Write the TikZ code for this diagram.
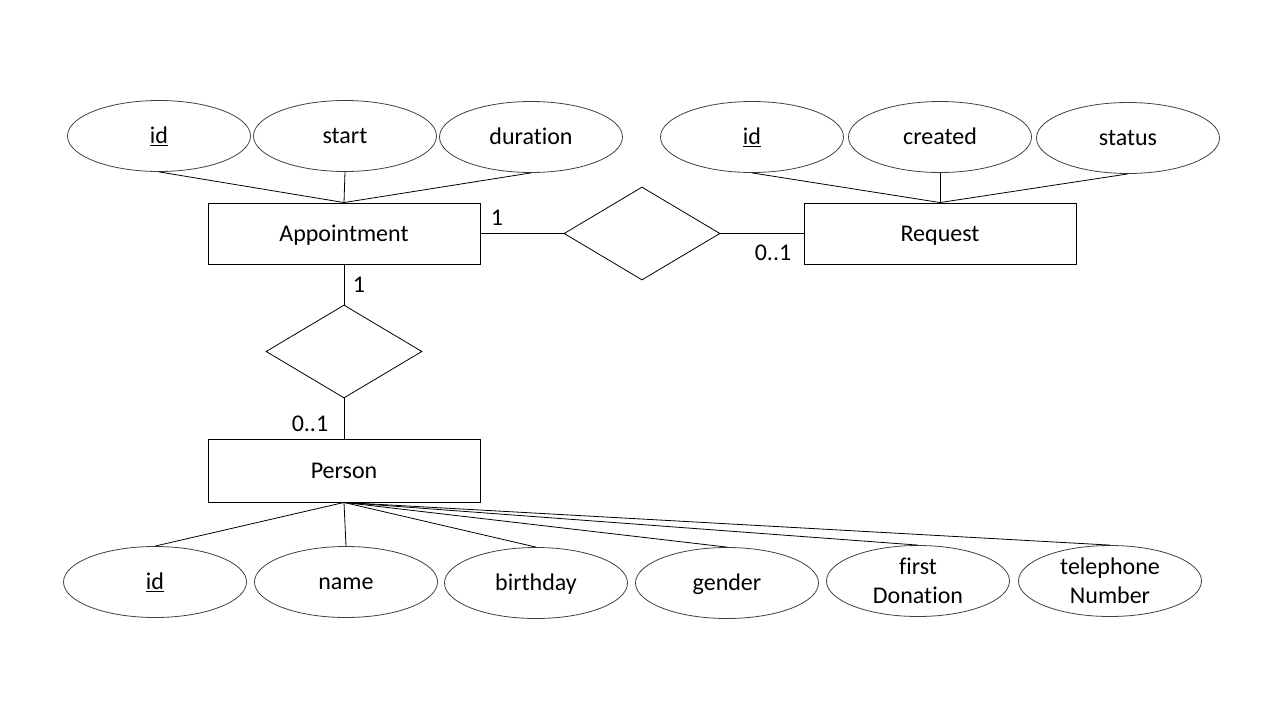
\documentclass[tikz,border=0pt]{standalone}
\usepackage{fontspec}
\setmainfont{Carlito}[Ligatures=NoCommon]
\usetikzlibrary{shapes.geometric}
\begin{document}
\begin{tikzpicture}[x=1pt,y=-1pt,
  fnt/.style={font=\fontsize{24}{29}\selectfont},
  txt/.style={fnt,text height=17pt,text depth=2pt},
  shape attr/.style={draw=black!75,line width=0.8pt,ellipse,minimum width=183pt,minimum height=71pt,inner sep=0pt,align=center},
  attr/.style={txt,shape attr},
  attrtwo/.style={fnt,shape attr},
  entity/.style={txt,draw,line width=0.9pt,rectangle,minimum width=272pt,minimum height=61pt,inner sep=0pt},
  rel/.style={draw,line width=0.8pt,diamond,minimum width=156pt,minimum height=93pt,inner sep=0pt},
  card/.style={txt,inner sep=0pt},
  conn/.style={line width=0.8pt}]
\useasboundingbox (0,0) rectangle (1280,720);
% entities
\node[entity] (app) at (344,233.5) {Appointment};
\node[entity] (req) at (940,233.5) {Request};
\node[entity,minimum height=63pt] (per) at (344,470.5) {Person};
% relationships
\node[rel] (r1) at (642,233.5) {};
\node[rel] (r2) at (344,351.5) {};
% appointment attributes
\node[attr] (aid) at (159,136) {\underline{id}};
\node[attr] (ast) at (345,136) {start};
\node[attr] (adu) at (531,137) {duration};
% request attributes
\node[attr] (rid) at (752,137) {\underline{id}};
\node[attr] (rcr) at (940,137) {created};
\node[attr] (rst) at (1128,138) {status};
% person attributes
\node[attr] (pid) at (155,582) {\underline{id}};
\node[attr] (pna) at (346,582) {name};
\node[attr] (pbi) at (536,583) {birthday};
\node[attr] (pge) at (727,583) {gender};
\node[attrtwo] (pfd) at (918,581) {first\\Donation};
\node[attrtwo] (ptn) at (1110,581) {telephone\\Number};
% connectors
\foreach \a in {aid,ast,adu} \draw[conn] (\a.south) -- (app.north);
\foreach \a in {rid,rcr,rst} \draw[conn] (\a.south) -- (req.north);
\foreach \a in {pid,pna,pbi,pge,pfd,ptn} \draw[conn] (per.south) -- (\a.north);
\draw[conn] (app.east) -- (r1.west);
\draw[conn] (r1.east) -- (req.west);
\draw[conn] (app.south) -- (r2.north);
\draw[conn] (r2.south) -- (per.north);
% cardinalities
\node[card] (c1) at (497,218) {1};
\node[card] (c2) at (773,253) {0..1};
\node[card] (c3) at (359,285) {1};
\node[card] (c4) at (310,424) {0..1};
\end{tikzpicture}
\end{document}
